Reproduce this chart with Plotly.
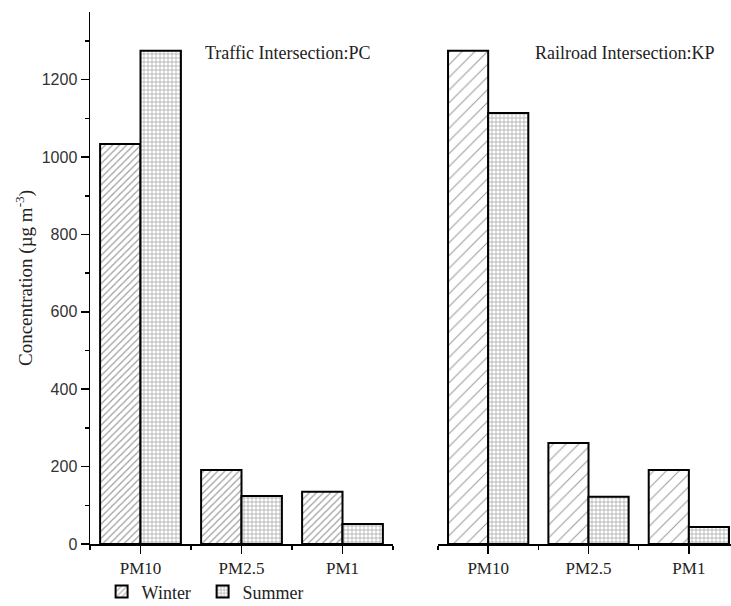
import plotly.graph_objects as go

categories = ["PM10", "PM2.5", "PM1"]
cat_pos = [0, 1, 2]
pc_winter = [1034, 191, 135]
pc_summer = [1275, 124, 52]
kp_winter = [1275, 261, 191]
kp_summer = [1114, 122, 44]
y_ticks = [0, 200, 400, 600, 800, 1000, 1200]

serif = "Liberation Serif, Times New Roman, serif"
sans = "Liberation Sans, Arial, sans-serif"
outline = dict(color="black", width=2)

fig = go.Figure()
fig.add_trace(go.Bar(x=cat_pos, y=pc_winter, name="Winter", offsetgroup="w", xaxis="x", yaxis="y",
                     marker=dict(color="white", line=outline,
                                 pattern=dict(shape="/", fgcolor="#3a3a3a", bgcolor="white", size=5, solidity=0.24)),
                     legendgroup="w"))
fig.add_trace(go.Bar(x=cat_pos, y=pc_summer, name="Summer", offsetgroup="s", xaxis="x", yaxis="y",
                     marker=dict(color="white", line=outline,
                                 pattern=dict(shape="+", fgcolor="#3a3a3a", bgcolor="white", size=4, solidity=0.3)),
                     legendgroup="s"))
fig.add_trace(go.Bar(x=cat_pos, y=kp_winter, name="Winter", offsetgroup="w", xaxis="x2", yaxis="y2",
                     marker=dict(color="white", line=outline,
                                 pattern=dict(shape="/", fgcolor="#3a3a3a", bgcolor="white", size=9, solidity=0.12)),
                     legendgroup="w", showlegend=False))
fig.add_trace(go.Bar(x=cat_pos, y=kp_summer, name="Summer", offsetgroup="s", xaxis="x2", yaxis="y2",
                     marker=dict(color="white", line=outline,
                                 pattern=dict(shape="+", fgcolor="#3a3a3a", bgcolor="white", size=4, solidity=0.3)),
                     legendgroup="s", showlegend=False))

xcommon = dict(tickvals=cat_pos, ticktext=categories, ticks="outside", ticklen=8, tickwidth=1.5,
               tickcolor="black", showline=True, linecolor="black", linewidth=1.5, showgrid=False,
               zeroline=False, tickfont=dict(family=serif, size=17, color="#222"), automargin=False,
               minor=dict(tick0=0.5, dtick=1, ticks="outside", ticklen=4, tickwidth=1.5, tickcolor="black"))

fig.update_layout(
    width=731, height=606,
    margin=dict(l=0, r=0, t=12, b=62, autoexpand=False),
    paper_bgcolor="white", plot_bgcolor="white",
    barmode="group", bargap=0.2, bargroupgap=0,
    xaxis=dict(domain=[90/731, 393/731], range=[-0.5, 2.5], anchor="y", **xcommon),
    xaxis2=dict(domain=[438/731, 1.0], range=[-0.5, 2.42], anchor="y2", **xcommon),
    yaxis=dict(range=[0, 1375], tickvals=y_ticks, ticks="outside", ticklen=8, tickwidth=1.5,
               tickcolor="black", showline=True, linecolor="black", linewidth=1.5, showgrid=False,
               zeroline=False, tickfont=dict(family=sans, size=16, color="#333"), automargin=False,
               minor=dict(tick0=100, dtick=200, ticks="outside", ticklen=4, tickwidth=1.5, tickcolor="black"),
               title=dict(text="Concentration (µg m<sup>-3</sup>)", font=dict(family=serif, size=19, color="#222"),
                          standoff=4),
               anchor="x"),
    yaxis2=dict(range=[0, 1375], matches="y", showline=False, showticklabels=False, ticks="",
                showgrid=False, zeroline=False, anchor="x2", automargin=False),
    showlegend=True,
    legend=dict(orientation="h", x=0.139, y=-0.09, xanchor="left", yanchor="middle",
                font=dict(family=serif, size=18, color="#222"), bgcolor="rgba(0,0,0,0)",
                entrywidth=56, entrywidthmode="pixels", tracegroupgap=0),
    annotations=[
        dict(text="Traffic Intersection:PC", x=203/731, y=(544-53)/532, xref="paper", yref="paper",
             xanchor="left", yanchor="middle", showarrow=False, font=dict(family=serif, size=18, color="#222")),
        dict(text="Railroad Intersection:KP", x=533/731, y=(544-53)/532, xref="paper", yref="paper",
             xanchor="left", yanchor="middle", showarrow=False, font=dict(family=serif, size=18, color="#222")),
    ],
)

fig.write_html("out.html", config={"displayModeBar": False, "staticPlot": True})

# remove the browser's default 8px body margin so the figure fills the window exactly
with open("out.html", "r", encoding="utf-8") as f:
    html = f.read()
html = html.replace("<head>", "<head><style>html,body{margin:0;padding:0;overflow:hidden;}</style>", 1)
with open("out.html", "w", encoding="utf-8") as f:
    f.write(html)
